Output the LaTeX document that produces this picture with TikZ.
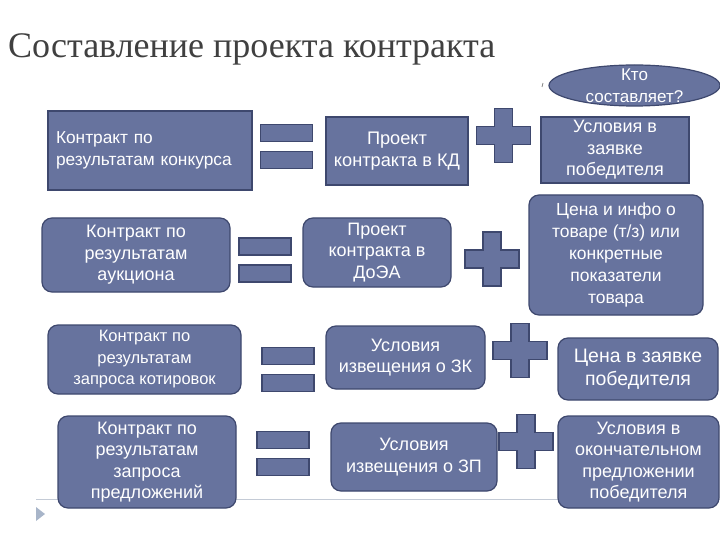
\documentclass[tikz,border=0pt]{standalone}
\usepackage{fontspec}
\setmainfont{Liberation Serif}
\setsansfont{Liberation Sans}
\usetikzlibrary{shapes.geometric}
\definecolor{slate}{RGB}{103,115,158}
\definecolor{slateline}{RGB}{62,72,110}
\definecolor{rulegray}{RGB}{196,203,214}
\definecolor{markgray}{RGB}{168,181,201}

\begin{document}
\begin{tikzpicture}[x=1pt, y=-1pt,
	block/.style={draw=slateline, fill=slate, line width=1.2pt, text=white,
		inner sep=0pt, align=center, font=\sffamily\fontsize{18}{21.5}\selectfont},
	roundblock/.style={block, rounded corners=10pt},
	sign/.style={draw=slateline, fill=slate, line width=1.2pt},
	equalsign/.pic={
		\draw[sign] (-26,-22) rectangle (26,-5);
		\draw[sign] (-26,5) rectangle (26,22);
	},
	plussign/.pic={
		\draw[sign] (-9,-27) -- (9,-27) -- (9,-9) -- (27,-9) -- (27,9)
			-- (9,9) -- (9,27) -- (-9,27) -- (-9,9) -- (-27,9) -- (-27,-9)
			-- (-9,-9) -- cycle;
	}]
\useasboundingbox (0,0) rectangle (720,540);
% Title
\node[anchor=base west, inner sep=0pt, font=\fontsize{36}{40}\selectfont, text=black!75]
	(title) at (8,58) {Составление проекта контракта};
% Bottom rule and bullet
\draw[rulegray, line width=1pt] (36,499) -- (720,499);
\fill[markgray] (36,507) -- (45,514) -- (36,521) -- cycle;
% Question
\draw[gray, line width=0.8pt] (543,83) -- (542,87);
\node[ellipse, draw=slateline, fill=slate, line width=1.2pt, inner sep=0pt,
	minimum width=171pt, minimum height=41pt] (who) at (634.5,85.5) {};
\node[text=white, align=center, font=\sffamily\fontsize{17}{22}\selectfont]
	(whotext) at (634.5,86) {Кто\\составляет?};
% Row 1: tender
\node[block, font=\sffamily\fontsize{17.3}{21.5}\selectfont, align=left,
	text width=188pt, inner xsep=8pt, minimum height=79pt]
	(tender) at (150,150.5) {Контракт по\\результатам конкурса};
\pic at (286.5,146.5) {equalsign};
\node[block, font=\sffamily\fontsize{18.2}{21.5}\selectfont, minimum width=142pt, minimum height=68pt]
	(tenderdraft) at (397,151) {Проект\\контракта в КД};
\pic at (503.5,135.5) {plussign};
\node[block, minimum width=148pt, minimum height=66pt]
	(tenderbid) at (615,150) {Условия в\\заявке\\победителя};
% Row 2: auction
\node[roundblock, minimum width=188pt, minimum height=74pt]
	(auction) at (136,255) {Контракт по\\результатам\\аукциона};
\pic at (265,260) {equalsign};
\node[roundblock, minimum width=148pt, minimum height=69pt]
	(auctiondraft) at (377,252.5) {Проект\\контракта в\\ДоЭА};
\pic at (492,259) {plussign};
\node[roundblock, font=\sffamily\fontsize{17.5}{22}\selectfont, minimum width=174pt, minimum height=120pt]
	(auctionbid) at (616,255) {Цена и инфо о\\товаре (т/з) или\\конкретные\\показатели\\товара};
% Row 3: quotations
\node[roundblock, font=\sffamily\fontsize{16.5}{21.5}\selectfont, minimum width=193pt, minimum height=69pt]
	(quote) at (144.5,359.5) {Контракт по\\результатам\\запроса котировок};
\pic at (288,369.5) {equalsign};
\node[roundblock, minimum width=159pt, minimum height=63pt]
	(quotenotice) at (405.5,357.5) {Условия\\извещения о ЗК};
\pic at (520,350.5) {plussign};
\node[roundblock, font=\sffamily\fontsize{19.5}{23}\selectfont, minimum width=160pt, minimum height=62pt]
	(quotebid) at (638,369) {Цена в заявке\\победителя};
% Row 4: proposals
\node[roundblock, minimum width=178pt, minimum height=92pt]
	(proposal) at (147,462) {Контракт по\\результатам\\запроса\\предложений};
\pic at (283,453.5) {equalsign};
\node[roundblock, minimum width=166pt, minimum height=68pt]
	(proposalnotice) at (414,457) {Условия\\извещения о ЗП};
\pic at (526,441.5) {plussign};
\node[roundblock, minimum width=161pt, minimum height=92pt]
	(proposalbid) at (638.5,462) {Условия в\\окончательном\\предложении\\победителя};

\end{tikzpicture}
\end{document}
